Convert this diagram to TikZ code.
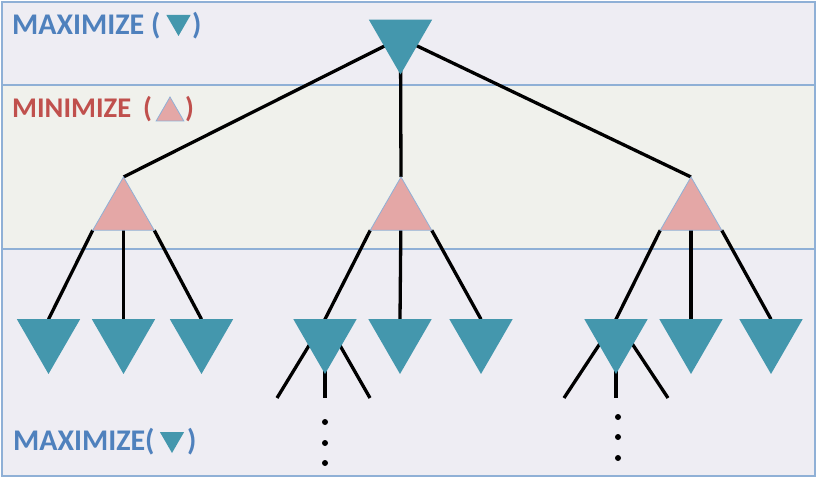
\documentclass[tikz,border=0pt]{standalone}
\usepackage{fontspec}
\setmainfont{Carlito}
\usetikzlibrary{shapes.geometric,calc}
\pgfdeclarelayer{back}
\pgfdeclarelayer{links}
\pgfsetlayers{back,links,main}

\definecolor{maxteal}{HTML}{4497AD}
\definecolor{minpink}{HTML}{E4A7A6}
\definecolor{rimblue}{HTML}{8FB0D6}
\definecolor{bandmax}{HTML}{EEEDF3}
\definecolor{bandmin}{HTML}{F0F1EC}
\definecolor{labblue}{HTML}{4F81BD}
\definecolor{labred}{HTML}{C0504D}

\tikzset{
  tri/.style={regular polygon, regular polygon sides=3, inner sep=0pt, outer sep=0pt},
  maxnode/.style={tri, shape border rotate=180, minimum size=73pt, fill=maxteal},
  minnode/.style={tri, minimum size=71pt, fill=minpink, draw=rimblue, line width=0.8pt},
  link/.style={line width=3.3pt, black},
  band/.style={draw=rimblue, line width=1.8pt},
  lab/.style={anchor=base west, inner sep=0pt, font=\bfseries\fontsize{30}{30}\selectfont},
  smalllab/.style={lab, font=\bfseries\fontsize{28.5}{28.5}\selectfont},
  maxicon/.style={tri, shape border rotate=180, minimum size=28pt, fill=maxteal},
  minicon/.style={tri, minimum size=32pt, fill=minpink, draw=rimblue, line width=0.8pt},
  dot/.style={fill=black}
}

\begin{document}
\begin{tikzpicture}[x=1pt,y=-1pt]
\useasboundingbox (0,0) rectangle (817,478);

% level bands
\begin{pgfonlayer}{back}
  \fill[bandmax] (2,2) rectangle (815,85);
  \fill[bandmin] (2,85) rectangle (815,249);
  \fill[bandmax] (2,249) rectangle (815,476);
  \draw[band] (2,2) rectangle (815,476);
  \draw[band] (2,85) -- (815,85);
  \draw[band] (2,249) -- (815,249);
\end{pgfonlayer}

% tree nodes
\node[maxnode] (root) at (400.5,38) {};

\node[minnode] (mA) at (123.5,212.5) {};
\node[minnode] (mB) at (401,212.5) {};
\node[minnode] (mC) at (691,212.5) {};

\node[maxnode] (a1) at (48.5,337.5) {};
\node[maxnode] (a2) at (123.5,337.5) {};
\node[maxnode] (a3) at (201.5,337.5) {};
\node[maxnode] (b1) at (325,337.5) {};
\node[maxnode] (b2) at (400,337.5) {};
\node[maxnode] (b3) at (481,337.5) {};
\node[maxnode] (c1) at (616,337.5) {};
\node[maxnode] (c2) at (691,337.5) {};
\node[maxnode] (c3) at (771,337.5) {};

% loose ends below the deeper subtrees
\coordinate (bl) at (277,398);
\coordinate (bm) at (325,398);
\coordinate (br) at (370,398);
\coordinate (cl) at (564,398);
\coordinate (cm) at (616,398);
\coordinate (cr) at (668,398);

% connectors
\begin{pgfonlayer}{links}
  \foreach \m in {mA,mB,mC}
    \draw[link] (root.center) -- (\m.corner 1);
  \foreach \m/\l/\c/\r in {mA/a1/a2/a3, mB/b1/b2/b3, mC/c1/c2/c3} {
    \draw[link] (\m.corner 2) -- ($(\l.corner 2)!.5!(\l.corner 3)$);
    \draw[link] (\m.center) -- ($(\c.corner 2)!.5!(\c.corner 3)$);
    \draw[link] (\m.corner 3) -- ($(\r.corner 2)!.5!(\r.corner 3)$);
  }
  \foreach \n/\x/\y/\z in {b1/bl/bm/br, c1/cl/cm/cr} {
    \draw[link] ($(\n.corner 2)!.5!(\n.corner 3)$) -- (\x);
    \draw[link] (\n.center) -- (\y);
    \draw[link] ($(\n.corner 2)!.5!(\n.corner 3)$) -- (\z);
  }
\end{pgfonlayer}

% continuation dots
\foreach \yy in {422,443,463} \fill[dot] (325,\yy) circle (3pt);
\foreach \yy in {417,437,458} \fill[dot] (618,\yy) circle (3pt);

% level labels
\node[lab, text=labblue] (tmax)  at (12,35)  {MAXIMIZE};
\node[lab, text=labblue] (tmaxl) at (151,35) {(};
\node[maxicon] (imax) at (178.5,22) {};
\node[lab, text=labblue] (tmaxr) at (192,35) {)};

\node[smalllab, text=labred] (tmin)  at (12,118)  {MINIMIZE};
\node[smalllab, text=labred] (tminl) at (143,118) {(};
\node[minicon] (imin) at (170,113) {};
\node[smalllab, text=labred] (tminr) at (185,118) {)};

\node[lab, text=labblue] (bmax)  at (13,450)  {MAXIMIZE};
\node[lab, text=labblue] (bmaxl) at (145,450) {(};
\node[maxicon] (ibmax) at (172,439) {};
\node[lab, text=labblue] (bmaxr) at (187,450) {)};
\end{tikzpicture}
\end{document}
